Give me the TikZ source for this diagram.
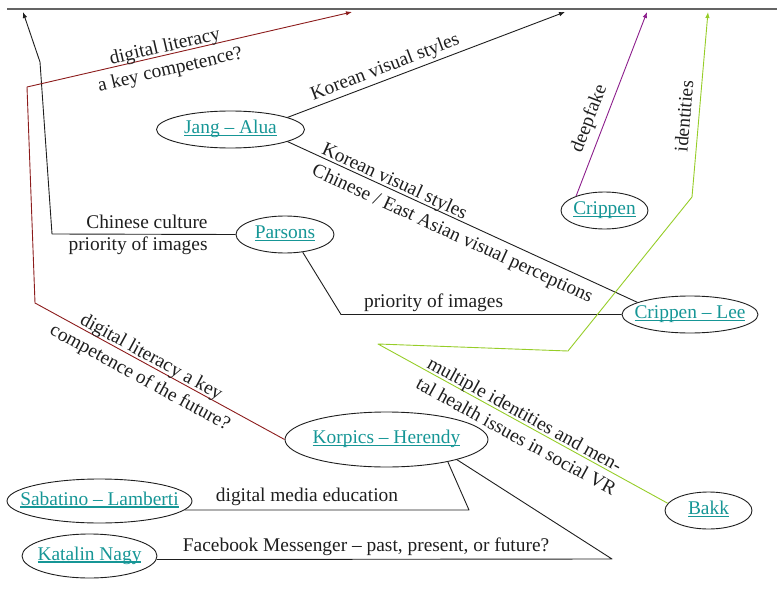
\documentclass[tikz,border=0pt]{standalone}
\usepackage{fontspec}
\setmainfont{Liberation Serif}
\usetikzlibrary{shapes.geometric,arrows.meta}
\definecolor{linkc}{RGB}{22,150,150}
\definecolor{redc}{RGB}{140,28,28}
\definecolor{purc}{RGB}{140,30,140}
\definecolor{grnc}{RGB}{150,205,40}
\definecolor{barc}{RGB}{100,100,100}
\definecolor{inkc}{RGB}{30,30,30}
\newsavebox\lnkbox
\newcommand\ulink[1]{\sbox\lnkbox{#1}\rlap{\rule[-2.6pt]{\wd\lnkbox}{1.5pt}}\usebox\lnkbox}
\newcommand\lblfont{\fontsize{19.4}{22}\selectfont}
\begin{document}
\begin{tikzpicture}[x=1pt,y=-1pt,line join=round,
  person/.style={ellipse,draw=inkc,line width=0.9pt,inner sep=0pt,font=\lblfont,text=linkc,
    text height=13pt,text depth=4.5pt},
  lbl/.style={font=\lblfont,text=inkc,inner sep=0pt},
  abv/.style={lbl,anchor=south,text depth=0pt,inner ysep=#1},
  upln/.style={lbl,text depth=0pt,inner ysep=#1},
  dnln/.style={lbl,text height=0pt,inner ysep=#1},
  conn/.style={draw=inkc,line width=0.9pt},
  redline/.style={draw=redc,line width=0.9pt},
  purline/.style={draw=purc,line width=0.9pt},
  grnline/.style={draw=grnc,line width=0.9pt},
  tip/.style={-{Latex[length=6pt,width=4.5pt]}},
  bar/.style={draw=barc,line width=2.6pt}]
\useasboundingbox (0,0) rectangle (777,589);
% top bar and arrow targets
\coordinate (barL) at (7,9);
\coordinate (barR) at (777,9);
\draw[bar] (barL) -- (barR);
\coordinate (tA) at (23,12);
\coordinate (tB) at (352,12);
\coordinate (tC) at (565,12);
\coordinate (tD) at (647,12);
\coordinate (tE) at (708,12);
% nodes
\node[person,minimum width=148pt,minimum height=37pt] (jang) at (230.5,129.5) {\makebox[0pt]{\ulink{Jang -- Alua}}};
\node[person,minimum width=98pt,minimum height=37pt] (parsons) at (285,234.5) {\makebox[0pt]{\ulink{Parsons}}};
\node[person,minimum width=87pt,minimum height=37pt] (crippen) at (604.5,210.5) {\makebox[0pt]{\ulink{Crippen}}};
\node[person,minimum width=136pt,minimum height=37pt] (clee) at (690,314.5) {\makebox[0pt]{\ulink{Crippen -- Lee}}};
\node[person,minimum width=203pt,minimum height=55pt] (korpics) at (386.5,439.5) {\makebox[0pt]{\ulink{Korpics -- Herendy}}};
\node[person,minimum width=185pt,minimum height=44pt] (sabatino) at (99.5,501) {\makebox[0pt]{\ulink{Sabatino -- Lamberti}}};
\node[person,minimum width=135pt,minimum height=44pt] (katalin) at (89.5,556) {\makebox[0pt]{\ulink{Katalin Nagy}}};
\node[person,minimum width=87pt,minimum height=37pt] (bakk) at (708.5,510.5) {\makebox[0pt]{\ulink{Bakk}}};
% bend points
\coordinate (p1) at (52,234);
\coordinate (p2) at (40,62);
\coordinate (r1) at (35,303);
\coordinate (r2) at (27,87);
\coordinate (q1) at (341,314.5);
\coordinate (g1) at (378,344);
\coordinate (g2) at (568,351);
\coordinate (g3) at (692,197);
\coordinate (s1) at (469,510);
\coordinate (k1) at (612,559);
% connectors
\draw[conn,tip] (parsons.west) -- node[lbl,anchor=east,align=right,pos=0.15]{Chinese culture\\priority of images} (p1) -- (p2) -- (tA);
\draw[conn] (parsons.-45) -- (q1) -- node[abv=7pt,pos=0.33]{priority of images} (clee.west);
\draw[conn,tip] (jang.12) -- node[abv=6.5pt,sloped,pos=0.367]{Korean visual styles} (tC);
\draw[conn] (jang.-12)
  -- node[upln=2.5pt,sloped,anchor=south west,pos=0.09]{Korean visual styles}
     node[dnln=20pt,sloped,anchor=north west,pos=0.09]{Chinese / East Asian visual perceptions}
  (clee.167);
\draw[redline,tip] (korpics.west)
  -- node[upln=2.5pt,sloped,anchor=south,pos=0.55]{digital literacy a key}
     node[dnln=20pt,sloped,anchor=north,pos=0.55]{competence of the future?}
  (r1) -- (r2)
  -- node[upln=2.5pt,sloped,anchor=south,pos=0.43]{digital literacy}
     node[dnln=20pt,sloped,anchor=north,pos=0.43]{a key competence?}
  (tB);
\draw[purline,tip] (crippen.153) -- node[abv=10pt,sloped,pos=0.39]{deepfake} (tD);
\draw[grnline,tip] (bakk.170)
  -- node[upln=2.5pt,sloped,anchor=south west,pos=0.84]{multiple identities and men-}
     node[dnln=20pt,sloped,anchor=north west,pos=0.84]{tal health issues in social VR}
  (g1) -- (g2) -- (g3) -- node[abv=8pt,sloped,pos=0.43]{identities} (tE);
\draw[conn] (korpics.-20) -- (s1) -- node[abv=8pt,pos=0.57]{digital media education} (sabatino.-6);
\draw[conn] (korpics.-16) -- (k1) -- node[abv=7pt,pos=0.54]{Facebook Messenger -- past, present, or future?} (katalin.-3);
\end{tikzpicture}
\end{document}
